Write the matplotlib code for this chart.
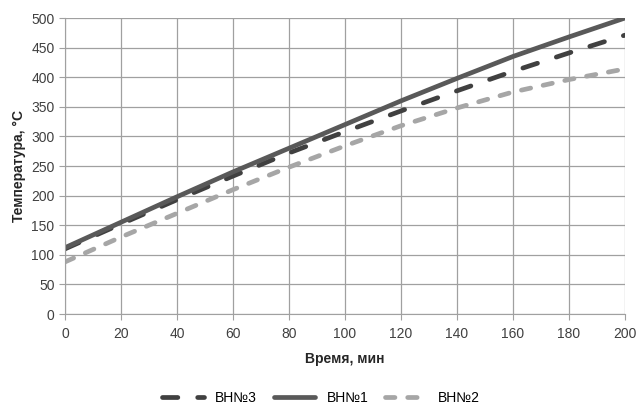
import matplotlib
matplotlib.use("Agg")
import matplotlib.pyplot as plt

# time, min
time_min = [0, 20, 40, 60, 80, 100, 120, 140, 160, 180, 200]
# temperature, °C
vn3 = [110, 152, 193, 233, 272, 308, 343, 377, 410, 441, 471]
vn1 = [112, 155, 198, 240, 280, 320, 360, 398, 435, 468, 500]
vn2 = [88, 130, 170, 210, 248, 284, 318, 348, 375, 396, 414]

plt.rcParams['font.family'] = ['Liberation Sans', 'DejaVu Sans']

fig = plt.figure(figsize=(6.37, 4.05), dpi=100)
ax = fig.add_axes([65 / 637, 1 - 314 / 405, 560 / 637, 296 / 405])

ax.plot(time_min, vn3, color='#404040', lw=3.4, dashes=(3.25, 4.2),
        dash_capstyle='round', label='ВН№3')
ax.plot(time_min, vn1, color='#595959', lw=3.4, solid_capstyle='round', label='ВН№1')
ax.plot(time_min, vn2, color='#a6a6a6', lw=3.4, dashes=(2.0, 2.7),
        dash_capstyle='round', label='ВН№2')

ax.set_xlim(0, 200)
ax.set_ylim(0, 500)
ax.set_xticks(range(0, 201, 20))
ax.set_yticks(range(0, 501, 50))
ax.grid(True, color='#a0a0a0', lw=0.9)
ax.set_axisbelow(True)
for side in ['top', 'right']:
    ax.spines[side].set_visible(False)
for side in ['left', 'bottom']:
    ax.spines[side].set_color('#a0a0a0')
ax.tick_params(colors='#a0a0a0', labelcolor='#404040', labelsize=10, length=4)
ax.tick_params(axis='x', pad=5)

ax.set_xlabel('Время, мин', fontsize=10, fontweight='bold', color='#262626', labelpad=8)
ax.set_ylabel('Температура, °С', fontsize=10, fontweight='bold', color='#262626')

fig.legend(loc='center', bbox_to_anchor=(321 / 637, 1 - 398 / 405), ncol=3, frameon=False,
           fontsize=10, handlelength=3.0, handletextpad=0.8, columnspacing=1.2)

fig.savefig('out.png', dpi=100)
